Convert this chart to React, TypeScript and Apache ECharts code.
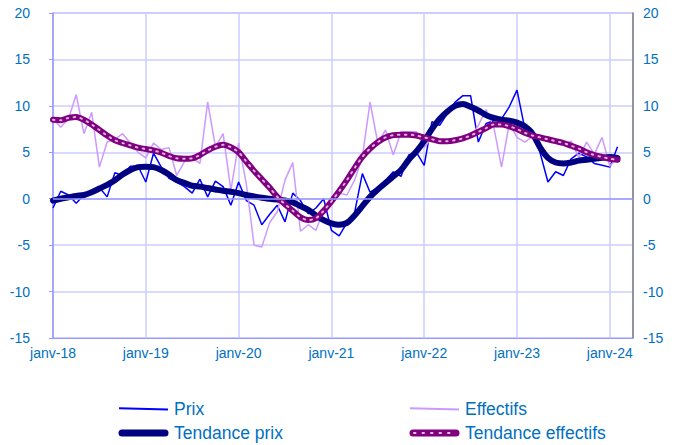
import React, { useEffect, useRef } from "react";
import * as echarts from "echarts";

const MONTHS = ["janv", "févr", "mars", "avr", "mai", "juin", "juil", "août", "sept", "oct", "nov", "déc"];
const YEARS = ["18", "19", "20", "21", "22", "23", "24"];
const N_CATEGORIES = 76; // janv-18 .. avr-24 (axis runs a little past the data)

const prix = [
  -1.0, 0.8, 0.4, -0.5, 0.4, 0.6, 1.2, 0.2, 2.8, 2.5, 3.5, 3.5,
  1.8, 4.9, 3.4, 2.2, 1.8, 1.3, 0.6, 2.1, 0.2, 1.9, 1.3, -0.7,
  1.8, -0.2, -0.7, -2.8, -1.7, -0.7, -2.5, 0.6, -0.2, -1.6, -1.0, 0.0,
  -3.4, -4.0, -2.6, -1.5, 2.7, 0.7, 1.2, 2.0, 2.9, 2.4, 4.7, 5.0,
  3.6, 8.3, 7.9, 9.2, 10.4, 11.1, 11.1, 6.1, 8.1, 8.4, 8.6, 9.9,
  11.7, 7.6, 7.4, 4.9, 1.8, 2.9, 2.5, 4.3, 4.9, 4.5, 3.8, 3.6,
  3.4, 5.6,
];

const effectifs = [
  8.6, 7.7, 8.6, 11.2, 7.0, 9.3, 3.4, 6.1, 6.4, 7.0, 6.0, 5.0,
  4.4, 6.0, 5.3, 5.5, 2.5, 4.0, 4.4, 3.8, 10.4, 5.6, 7.0, 0.9,
  6.0, 1.6, -5.0, -5.2, -2.6, -1.4, 2.0, 3.9, -3.5, -2.8, -3.4, -1.2,
  -0.1, 0.6, 0.4, 2.0, 4.5, 10.4, 6.0, 7.4, 4.7, 7.2, 7.2, 7.2,
  5.5, 6.6, 6.3, 6.2, 6.3, 6.5, 6.6, 7.9, 9.6, 7.7, 3.4, 8.1,
  6.6, 6.1, 6.7, 6.8, 6.5, 6.3, 5.8, 6.2, 4.4, 6.1, 4.8, 6.6,
  3.5, 4.5,
];

const tendancePrix = [
  -0.2, 0.0, 0.15, 0.3, 0.4, 0.7, 1.1, 1.5, 2.0, 2.6, 3.1, 3.4,
  3.45, 3.4, 3.1, 2.6, 2.0, 1.7, 1.4, 1.3, 1.15, 1.0, 0.85, 0.75,
  0.6, 0.4, 0.25, 0.1, 0.0, -0.1, -0.2, -0.4, -0.8, -1.2, -1.8, -2.3,
  -2.65, -2.8, -2.6, -1.8, -0.8, 0.2, 1.0, 1.7, 2.4, 3.1, 4.2, 5.1,
  6.2, 7.5, 8.6, 9.4, 10.0, 10.2, 9.9, 9.5, 9.0, 8.7, 8.5, 8.4,
  8.2, 7.8, 7.0, 5.5, 4.4, 3.9, 3.8, 3.9, 4.1, 4.2, 4.3, 4.4,
  4.5, 4.4,
];

const tendanceEffectifs = [
  8.5, 8.45, 8.7, 8.8, 8.5, 8.0, 7.4, 6.8, 6.3, 6.0, 5.75, 5.5,
  5.35, 5.2, 4.95, 4.6, 4.35, 4.3, 4.35, 4.7, 5.2, 5.6, 5.8, 5.55,
  5.0, 4.0, 3.0, 2.1, 1.2, 0.2, -0.6, -1.3, -2.0, -2.3, -2.1, -1.3,
  -0.3, 0.8, 2.0, 3.3, 4.5, 5.4, 6.1, 6.6, 6.85, 6.9, 6.9, 6.8,
  6.6, 6.4, 6.2, 6.2, 6.3, 6.5, 6.8, 7.2, 7.6, 8.0, 8.0, 7.8,
  7.5, 7.1, 6.8, 6.6, 6.4, 6.2, 6.0, 5.7, 5.4, 5.0, 4.7, 4.5,
  4.3, 4.2,
];

const Y_MIN = -15;
const Y_MAX = 20;
const Y_STEP = 5;

const C_PRIX = "#0000FF";
const C_EFF = "#CC99FF";
const C_TPRIX = "#000080";
const C_TEFF = "#800080";
const C_TEXT = "#0070C0";
const C_AXIS = "#9999FF";
const C_GRID = "#CCCCFF";
const FONT = "Liberation Sans";

function svgIcon(inner: string): string {
  const svg = `<svg xmlns="http://www.w3.org/2000/svg" width="51" height="8" viewBox="0 0 51 8">${inner}</svg>`;
  return "image://data:image/svg+xml;charset=utf-8," + encodeURIComponent(svg);
}

const ICON_PRIX = svgIcon(`<line x1="1" y1="3.3" x2="50" y2="4.4" stroke="${C_PRIX}" stroke-width="2"/>`);
const ICON_EFF = svgIcon(`<line x1="1" y1="3.3" x2="50" y2="4.4" stroke="${C_EFF}" stroke-width="2"/>`);
const ICON_TPRIX = svgIcon(`<line x1="4" y1="4" x2="47" y2="4" stroke="${C_TPRIX}" stroke-width="7" stroke-linecap="round"/>`);
const ICON_TEFF = svgIcon(
  `<line x1="4" y1="4" x2="47" y2="4" stroke="${C_TEFF}" stroke-width="7" stroke-linecap="round"/>` +
    `<line x1="5" y1="4" x2="46" y2="4" stroke="#ffffff" stroke-opacity="0.75" stroke-width="2" stroke-dasharray="1.5 7" stroke-linecap="round"/>`
);

function legendItem(name: string, icon: string, left: number, top: number) {
  return {
    left,
    top,
    orient: "horizontal",
    itemWidth: 51,
    itemHeight: 8,
    selectedMode: false,
    padding: 0,
    textStyle: { color: C_TEXT, fontSize: 17.5, fontFamily: FONT },
    data: [{ name, icon }],
  };
}

export default function App() {
  const ref = useRef<HTMLDivElement>(null);

  useEffect(() => {
    if (!ref.current) return;
    const chart = echarts.init(ref.current, undefined, { renderer: "svg" });
    const categories = YEARS.flatMap((y) => MONTHS.map((m) => `${m}-${y}`)).slice(0, N_CATEGORIES);
    const yearly = (i: number) => i % 12 === 0;

    const yAxisBase = {
      type: "value" as const,
      min: Y_MIN,
      max: Y_MAX,
      interval: Y_STEP,
      axisLabel: { color: C_TEXT, fontSize: 14, fontFamily: FONT },
    };

    chart.setOption({
      animation: false,
      backgroundColor: "#ffffff",
      grid: {
        left: 53,
        right: 42,
        top: 13,
        bottom: 107,
        show: true,
        borderColor: C_AXIS,
        borderWidth: 1,
        backgroundColor: "transparent",
      },
      xAxis: {
        type: "category",
        data: categories,
        boundaryGap: false,
        axisLine: { show: true, onZero: false, lineStyle: { color: C_AXIS, width: 1 } },
        axisTick: { show: false },
        axisLabel: {
          interval: yearly,
          color: C_TEXT,
          fontSize: 14,
          fontFamily: FONT,
          margin: 8,
        },
        splitLine: { show: true, interval: yearly, lineStyle: { color: C_GRID, width: 1.5 } },
      },
      yAxis: [
        {
          ...yAxisBase,
          position: "left",
          axisLine: { show: true, lineStyle: { color: C_AXIS, width: 1.5 } },
          axisTick: { show: true, length: 4, lineStyle: { color: C_AXIS } },
          axisLabel: { ...yAxisBase.axisLabel, margin: 23 },
          splitLine: { show: true, lineStyle: { color: C_GRID, width: 1.5 } },
        },
        {
          ...yAxisBase,
          position: "right",
          axisLine: { show: true, lineStyle: { color: "#808080", width: 1.5 } },
          axisTick: { show: false },
          axisLabel: { ...yAxisBase.axisLabel, margin: 10 },
          splitLine: { show: false },
        },
      ],
      legend: [
        legendItem("Prix", ICON_PRIX, 118, 400),
        legendItem("Tendance prix", ICON_TPRIX, 118, 424),
        legendItem("Effectifs", ICON_EFF, 409, 400),
        legendItem("Tendance effectifs", ICON_TEFF, 409, 424),
      ],
      series: [
        {
          name: "Prix",
          type: "line",
          data: prix,
          symbol: "none",
          lineStyle: { color: C_PRIX, width: 1.5 },
          itemStyle: { color: C_PRIX },
          markLine: {
            silent: true,
            symbol: "none",
            label: { show: false },
            lineStyle: { color: C_AXIS, width: 1.5, type: "solid" },
            data: [{ yAxis: 0 }],
          },
        },
        {
          name: "Effectifs",
          type: "line",
          data: effectifs,
          symbol: "none",
          lineStyle: { color: C_EFF, width: 1.5 },
          itemStyle: { color: C_EFF },
        },
        {
          name: "Tendance prix",
          type: "line",
          data: tendancePrix,
          symbol: "none",
          smooth: 0.3,
          lineStyle: { color: C_TPRIX, width: 6, cap: "round", join: "round" },
          itemStyle: { color: C_TPRIX },
        },
        {
          name: "Tendance effectifs",
          type: "line",
          data: tendanceEffectifs,
          symbol: "none",
          smooth: 0.3,
          lineStyle: { color: C_TEFF, width: 6, cap: "round", join: "round" },
          itemStyle: { color: C_TEFF },
        },
        {
          name: "Tendance effectifs (motif)",
          type: "line",
          data: tendanceEffectifs,
          symbol: "none",
          smooth: 0.3,
          silent: true,
          lineStyle: { color: "rgba(255,255,255,0.7)", width: 2, type: [1.5, 5.5], cap: "round" },
        },
      ],
    });

    return () => chart.dispose();
  }, []);

  return (
    <div
      ref={ref}
      style={{ position: "fixed", left: 0, top: 0, width: 675, height: 445, background: "#fff" }}
    />
  );
}
